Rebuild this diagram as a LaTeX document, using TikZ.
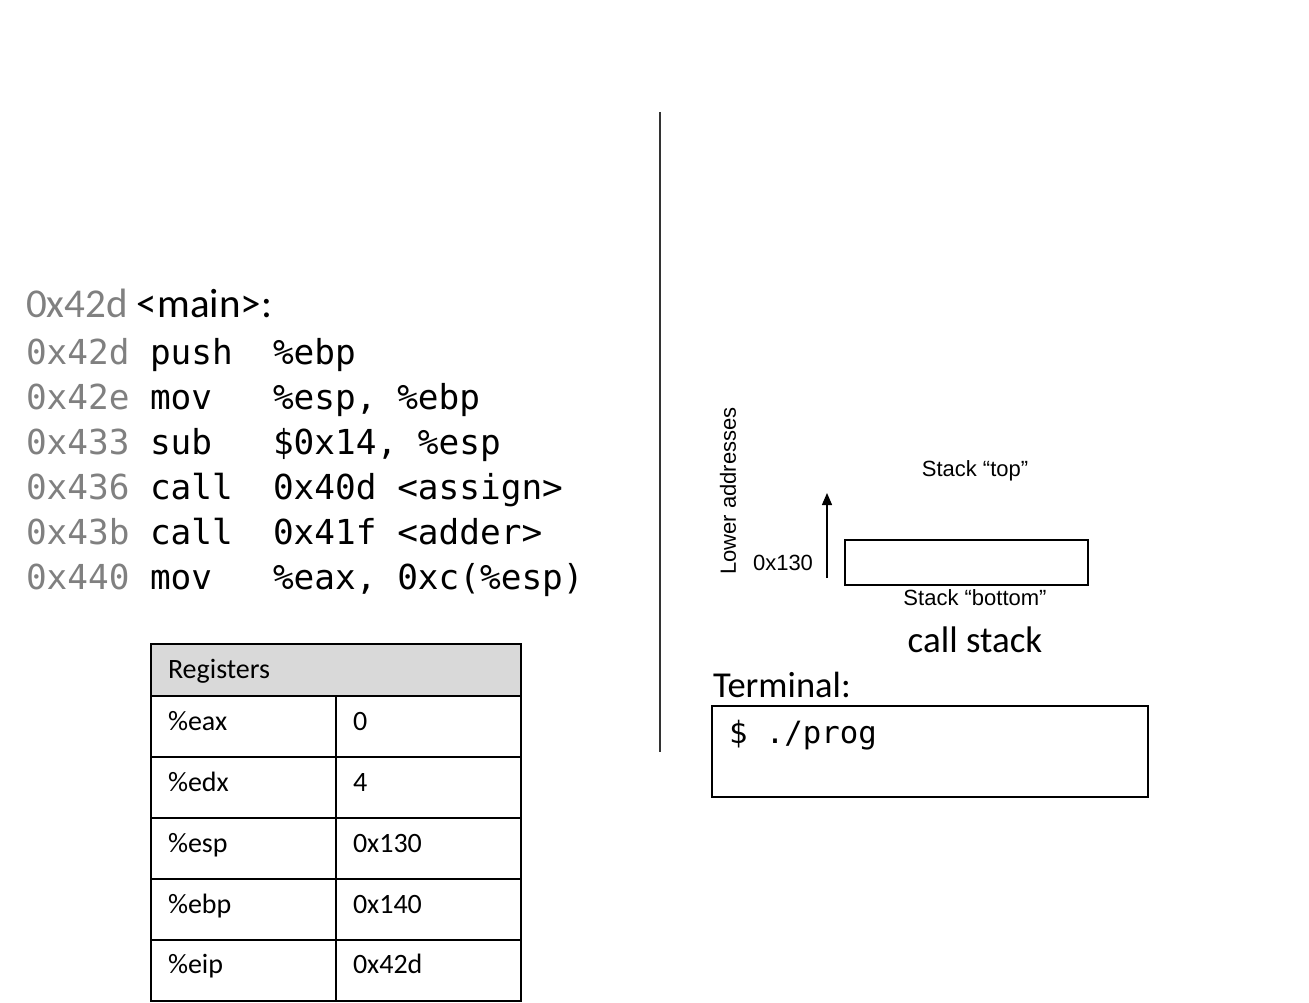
\documentclass[tikz,border=0pt]{standalone}
\usepackage{fontspec}
\setmainfont{Carlito}
\newfontfamily\codefont{DejaVu Sans Mono}
\newfontfamily\labelfont{Liberation Sans}
\usetikzlibrary{%
  arrows.meta,%
  positioning% wg. " of "
}
\definecolor{addrgray}{RGB}{128,128,128}
\definecolor{headgray}{RGB}{217,217,217}

\begin{document}
\begin{tikzpicture}[
  x=1pt, y=-1pt, line width=2pt,
  code/.style={anchor=base west, inner sep=0pt, font=\codefont\fontsize{34.4}{41}\selectfont},
  addr/.style={code, text=addrgray},
  regcell/.style={draw, minimum width=185pt, minimum height=61pt, text width=151pt, align=left, inner xsep=17pt, inner ysep=0pt, text height=19pt, text depth=12pt, font=\fontsize{28}{34}\selectfont},
  stacklabel/.style={inner sep=0pt, font=\labelfont\fontsize{22}{26}\selectfont},
  bigtext/.style={anchor=base west, inner sep=0pt, font=\fontsize{37}{44}\selectfont}
]
\useasboundingbox (0,0) rectangle (1309,1003);

% code listing
\node[anchor=base west, inner sep=0pt, font=\fontsize{41}{49}\selectfont] (mainlabel) at (25,317) {\textcolor{addrgray}{0x42d} <main>:};
\foreach \a/\m/\o [count=\i] in {0x42d/push/\%ebp, 0x42e/mov/{\%esp, \%ebp}, 0x433/sub/{\$0x14, \%esp}, 0x436/call/0x40d <assign>, 0x43b/call/0x41f <adder>, 0x440/mov/{\%eax, 0xc(\%esp)}} {
    \node[addr] (addr\i) at (25,{319+45*\i}) {\a};
    \node[code] (op\i) at (149,{319+45*\i}) {\m};
    \node[code] (arg\i) at (272,{319+45*\i}) {\o};
}

% registers
\node[regcell, fill=headgray, minimum width=370pt, minimum height=52pt, text width=336pt, text height=20pt, text depth=4pt] (reghead) at (336,670) {Registers};
\foreach \r/\y/\v in {eax/726.5/0, edx/787.5/4, esp/848.5/0x130, ebp/909.5/0x140, eip/970/0x42d} {
    \node[regcell] (reg\r) at (243.5,\y) {\%\r};
    \node[regcell] (val\r) at (428.5,\y) {\v};
}

\coordinate (divtop) at (660,112);
\coordinate (divbot) at (660,752);
\draw[line width=1.3pt, black!80] (divtop) -- (divbot);

% call stack
\node[draw, minimum width=243pt, minimum height=45pt, inner sep=0pt] (stackbox) at (966.5,562.5) {};
\node[stacklabel] (stacktop) at (975,471) {Stack “top”};
\node[stacklabel] (stackbottom) at (975,598) {Stack “bottom”};
\node[stacklabel] (espval) at (783,563) {0x130};
\node[stacklabel, rotate=90] (lowaddr) at (728,491) {Lower addresses};
\coordinate (arrowfoot) at (827,578);
\coordinate (arrowtip) at (827,493);
\draw[line width=1.3pt, -{Triangle[length=12pt,width=10pt]}] (arrowfoot) -- (arrowtip);
\node[bigtext, anchor=base] (stackcaption) at (975,652) {call stack};

% terminal
\node[bigtext, font=\fontsize{36.5}{44}\selectfont] (termlabel) at (712,697) {Terminal:};
\node[draw, minimum width=436pt, minimum height=91pt, inner sep=0pt] (termbox) at (930,751.5) {};
\node[code, font=\codefont\fontsize{30.7}{36}\selectfont] (prompt) at (728,743) {\$ ./prog};
\end{tikzpicture}
\end{document}
